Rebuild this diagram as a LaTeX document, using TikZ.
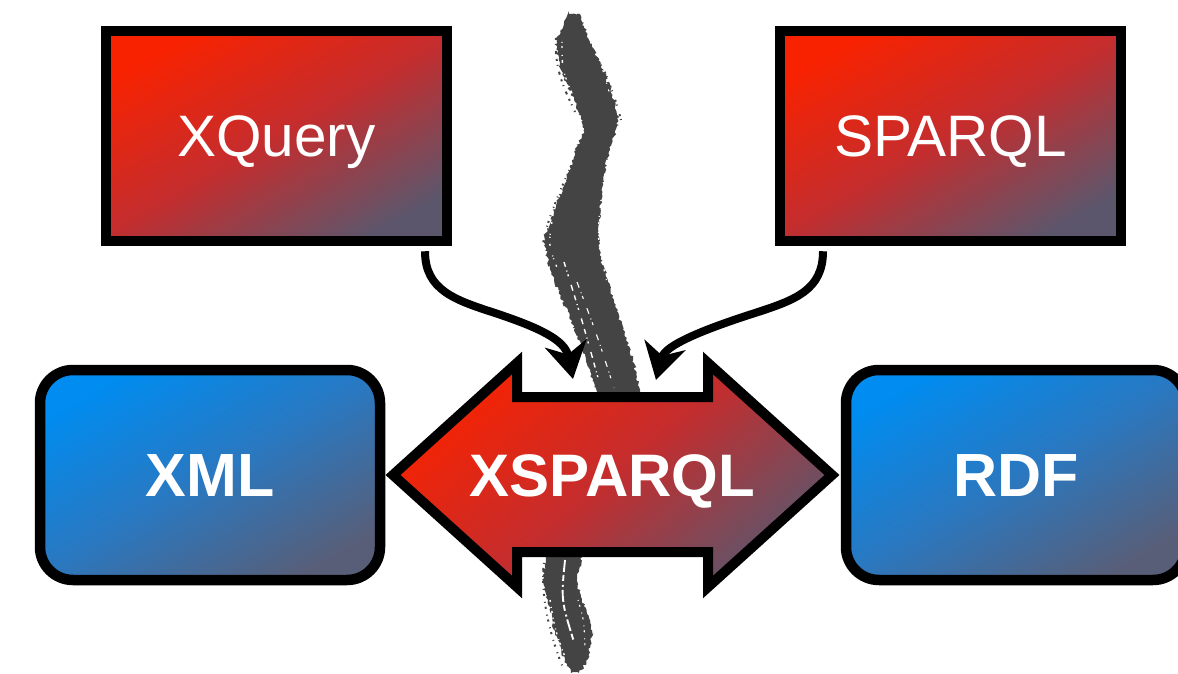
\documentclass[tikz,border=0pt]{standalone}
\usepackage{fontspec}
\setmainfont{Liberation Sans}
\usetikzlibrary{arrows.meta,decorations.pathmorphing}

\definecolor{redlight}{HTML}{F82200}
\definecolor{redmid}{HTML}{C42D2E}
\definecolor{reddark}{HTML}{5C566C}
\definecolor{bluelight}{HTML}{008CF0}
\definecolor{bluemid}{HTML}{2A78C0}
\definecolor{bluedark}{HTML}{585E78}
\definecolor{brushgray}{HTML}{444444}

% diagonal gradients: dark at the bottom, bright at the top (rotated later)
\pgfdeclareverticalshading{redgrad}{100bp}{color(0bp)=(reddark); color(24bp)=(reddark); color(50bp)=(redmid); color(76bp)=(redlight); color(100bp)=(redlight)}
\pgfdeclareverticalshading{bluegrad}{100bp}{color(0bp)=(bluedark); color(24bp)=(bluedark); color(50bp)=(bluemid); color(76bp)=(bluelight); color(100bp)=(bluelight)}

\tikzset{
  box/.style={draw=black, line width=10.5pt, minimum width=341pt, minimum height=210pt,
    inner sep=0pt, text=white, text depth=0pt},
  querybox/.style={box, shade, shading=redgrad, shading angle=30,
    font=\fontsize{58.5}{60}\selectfont, text height=42pt},
  databox/.style={box, rounded corners=33pt, minimum width=340pt, shade, shading=bluegrad,
    shading angle=30, font=\fontsize{61}{62}\selectfont\bfseries, text height=43.5pt},
  bridge/.style={draw=black, line width=10pt, line join=miter, shade, shading=redgrad,
    shading angle=40},
  bridgelabel/.style={text=white, font=\fontsize{60}{62}\selectfont\bfseries,
    text height=43pt, text depth=0pt, inner sep=0pt},
  feed/.style={line width=8pt, -{Stealth[length=36pt,width=42pt,inset=11pt]}, shorten <=5pt},
  rough/.style={decorate, decoration={random steps, segment length=2pt, amplitude=1.5pt}},
  streak/.style={white, line width=1.4pt},
  fleck/.style={brushgray, line width=2pt}
}

\begin{document}
\begin{tikzpicture}[x=1pt, y=-1pt]
\useasboundingbox (0,0) rectangle (1178,674);
\clip (0,0) rectangle (1178,674);
\pgfmathsetseed{11}

% dry-brush stroke dividing the two worlds
\fill[brushgray, rough]
  plot[smooth, tension=0.45] coordinates {(569,14) (557,40) (561,70) (574,100) (584,128)
    (576,150) (566,180) (556,205) (545,240) (552,275) (571,320) (586,360) (597,392)}
  -- (546,557)
  -- plot[smooth, tension=0.45] coordinates {(546,557) (543,580) (548,600) (554,630) (565,660) (571,673)}
  -- plot[smooth, tension=0.45] coordinates {(579,673) (587,660) (592,630) (582,600) (577,580) (582,557)}
  -- (640,392)
  -- plot[smooth, tension=0.45] coordinates {(640,392) (633,360) (620,320) (608,280) (599,250)
    (600,215) (602,195) (604,175) (610,150) (618,118) (604,72) (589,40) (580,14)}
  -- cycle;
% ragged bristle edges
\draw[fleck, dash pattern=on 2pt off 4pt on 1pt off 6pt on 3pt off 5pt]
  (556,38) .. controls (554,70) and (565,90) .. (575,112);
\draw[fleck, dash pattern=on 1pt off 5pt on 2pt off 3pt on 1pt off 8pt]
  (574,160) .. controls (560,190) and (545,225) .. (543,245);
\draw[fleck, dash pattern=on 2pt off 6pt on 1pt off 4pt]
  (545,555) .. controls (539,590) and (548,630) .. (563,668);
\draw[fleck, dash pattern=on 1pt off 3pt on 2pt off 9pt]
  (621,120) .. controls (616,100) and (610,85) .. (604,70);
% white gaps between the bristles
\draw[streak, dash pattern=on 1pt off 3pt on 2pt off 7pt on 1pt off 4pt on 3pt off 11pt]
  (562,42) .. controls (562,70) .. (574,98);
\draw[streak, dash pattern=on 2pt off 7pt on 1pt off 3pt on 4pt off 9pt]
  (570,135) .. controls (563,170) .. (553,205);
\draw[streak, dash pattern=on 1pt off 6pt on 2pt off 10pt on 1pt off 2pt]
  (553,215) .. controls (548,245) .. (558,270);
\draw[streak, dash pattern=on 5pt off 4pt on 1pt off 3pt on 2pt off 9pt on 6pt off 5pt]
  (564,262) .. controls (582,320) .. (600,385);
\draw[streak, line width=1.1pt, dash pattern=on 6pt off 5pt on 1pt off 3pt on 3pt off 10pt]
  (577,282) .. controls (597,335) .. (614,388);
\draw[streak, dash pattern=on 1pt off 5pt on 2pt off 8pt]
  (601,200) .. controls (597,240) .. (607,282);
\draw[streak, line width=1.2pt, dash pattern=on 1pt off 6pt on 2pt off 11pt]
  (590,25) .. controls (600,60) .. (610,95);
\draw[streak, line width=1.9pt, dash pattern=on 12pt off 3pt on 6pt off 4pt on 2pt off 3pt]
  (565,560) .. controls (561,600) .. (574,642);
\draw[streak, dash pattern=on 2pt off 5pt on 1pt off 3pt]
  (550,600) .. controls (555,630) .. (565,657);
\draw[streak, line width=1.1pt, dash pattern=on 1pt off 4pt on 2pt off 6pt]
  (578,600) .. controls (584,620) .. (585,650);

% source languages and data formats
\node[querybox] (xq) at (276.5,136) {XQuery};
\node[querybox] (sp) at (950.5,136) {SPARQL};
\node[databox] (xml) at (210,475) {XML};
\node[databox] (rdf) at (1016,475) {RDF};

% the double arrow joining XML and RDF
\path[bridge] (393,475) -- (517,363) -- (517,397) -- (708,397) -- (708,363) -- (832,475)
  -- (708,587) -- (708,552) -- (517,552) -- (517,587) -- cycle;
\node[bridgelabel] (xs) at (612.5,475) {XSPARQL};

% both query languages feed into XSPARQL
\coordinate (inL) at (573,379);
\coordinate (inR) at (656,380);
\draw[feed] ([xshift=148.5pt]xq.south) .. controls +(0,44) and (455,300) .. (495,313)
  .. controls (540,328) and (565,340) .. (inL);
\draw[feed] ([xshift=-127.5pt]sp.south) .. controls +(0,44) and (795,300) .. (755,313)
  .. controls (705,329) and (665,345) .. (inR);
\end{tikzpicture}
\end{document}
